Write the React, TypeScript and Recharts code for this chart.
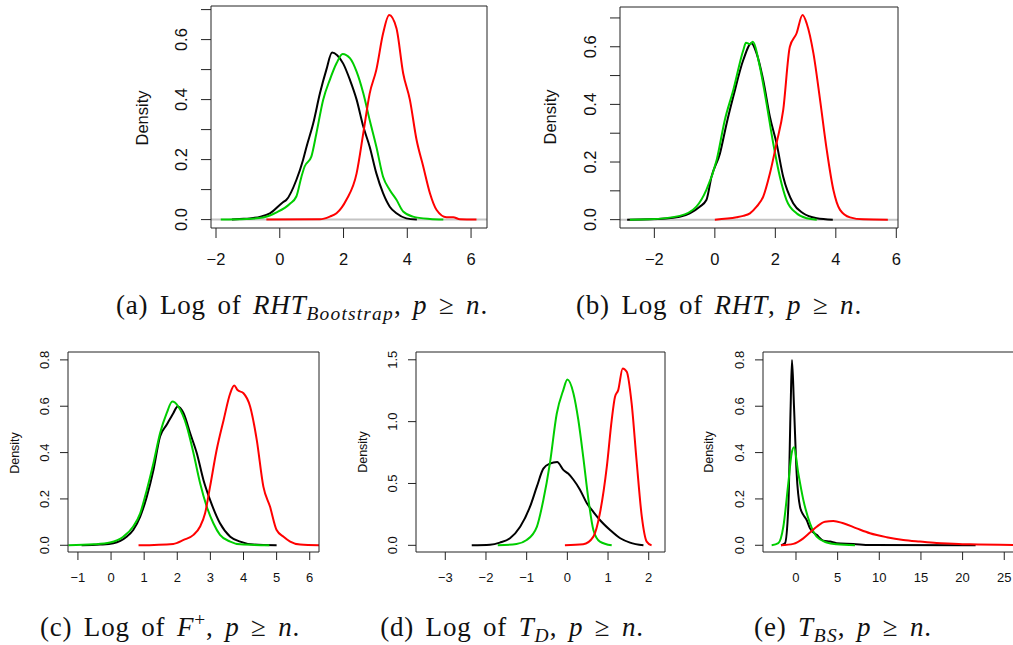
import { LineChart, Line, XAxis, YAxis, ReferenceLine } from 'recharts'

type Pt = [number, number]

// (a) log of RHT bootstrap
const aBlack: Pt[] = [[-1.5, 0], [-1.26, 0.002], [-0.94, 0.004], [-0.6, 0.01], [-0.31, 0.021], [0.1, 0.058], [0.21, 0.066], [0.52, 0.132], [0.73, 0.199], [0.84, 0.243], [1.05, 0.321], [1.26, 0.421], [1.46, 0.499], [1.64, 0.557], [1.8, 0.548], [1.99, 0.52], [2.2, 0.466], [2.41, 0.4], [2.62, 0.31], [2.82, 0.243], [3.03, 0.154], [3.24, 0.088], [3.45, 0.043], [3.66, 0.021], [3.97, 0.004], [4.3, 0]]
const aGreen: Pt[] = [[-1.85, 0], [-1.05, 0.002], [-0.52, 0.007], [-0.1, 0.024], [0.31, 0.052], [0.52, 0.077], [0.68, 0.143], [0.78, 0.177], [0.99, 0.21], [1.15, 0.288], [1.36, 0.399], [1.57, 0.466], [1.78, 0.521], [1.97, 0.552], [2.2, 0.538], [2.41, 0.493], [2.62, 0.421], [2.82, 0.332], [3.03, 0.243], [3.24, 0.143], [3.45, 0.099], [3.66, 0.066], [3.87, 0.027], [4.18, 0.01], [4.71, 0.002], [5.13, 0]]
const aRed: Pt[] = [[-0.42, 0], [1.26, 0.001], [1.57, 0.01], [1.78, 0.021], [2.09, 0.066], [2.41, 0.154], [2.62, 0.288], [2.82, 0.42], [3.03, 0.5], [3.24, 0.62], [3.43, 0.682], [3.66, 0.638], [3.87, 0.488], [4.08, 0.4], [4.29, 0.266], [4.5, 0.177], [4.71, 0.088], [4.92, 0.032], [5.23, 0.008], [5.44, 0.008], [5.65, 0.001], [6.17, 0]]

// (b) log of RHT
const bBlack: Pt[] = [[-2.9, 0], [-2.15, 0.001], [-1.16, 0.01], [-0.83, 0.022], [-0.5, 0.045], [-0.28, 0.068], [-0.11, 0.149], [0.17, 0.23], [0.39, 0.334], [0.61, 0.427], [0.94, 0.554], [1.21, 0.612], [1.38, 0.577], [1.6, 0.484], [1.82, 0.357], [2.04, 0.265], [2.26, 0.149], [2.59, 0.057], [2.92, 0.022], [3.37, 0.005], [3.9, 0]]
const bGreen: Pt[] = [[-2.81, 0], [-2.15, 0.001], [-1.16, 0.013], [-0.61, 0.045], [-0.28, 0.103], [0.06, 0.207], [0.33, 0.346], [0.61, 0.45], [0.94, 0.588], [1.03, 0.614], [1.16, 0.609], [1.25, 0.617], [1.49, 0.53], [1.71, 0.403], [1.93, 0.265], [2.15, 0.149], [2.37, 0.068], [2.7, 0.022], [3.04, 0.005], [3.37, 0]]
const bRed: Pt[] = [[0, 0], [0.72, 0.008], [0.94, 0.013], [1.16, 0.022], [1.38, 0.045], [1.6, 0.08], [1.82, 0.16], [2.04, 0.265], [2.26, 0.38], [2.48, 0.6], [2.7, 0.646], [2.9, 0.71], [3.04, 0.68], [3.26, 0.577], [3.48, 0.415], [3.7, 0.242], [3.92, 0.103], [4.14, 0.034], [4.47, 0.008], [4.91, 0.001], [5.72, 0]]

// (c) log of F+
const cBlack: Pt[] = [[-0.89, 0], [-0.33, 0.003], [0.07, 0.009], [0.47, 0.037], [0.67, 0.066], [0.88, 0.124], [1.08, 0.21], [1.28, 0.325], [1.48, 0.469], [1.68, 0.52], [1.88, 0.57], [2.01, 0.599], [2.19, 0.57], [2.39, 0.483], [2.59, 0.397], [2.79, 0.282], [2.99, 0.196], [3.29, 0.095], [3.6, 0.037], [3.9, 0.016], [4.3, 0.003], [5.0, 0]]
const cGreen: Pt[] = [[-1.29, 0], [-0.53, 0.004], [-0.03, 0.012], [0.37, 0.037], [0.67, 0.081], [0.88, 0.138], [1.08, 0.239], [1.28, 0.354], [1.48, 0.483], [1.68, 0.57], [1.85, 0.62], [2.03, 0.599], [2.29, 0.512], [2.49, 0.397], [2.69, 0.268], [2.89, 0.167], [3.09, 0.095], [3.29, 0.045], [3.6, 0.016], [3.9, 0.004], [4.78, 0]]
const cRed: Pt[] = [[0.83, 0], [1.88, 0.006], [2.19, 0.023], [2.49, 0.045], [2.69, 0.081], [2.84, 0.138], [2.99, 0.253], [3.19, 0.412], [3.4, 0.541], [3.6, 0.656], [3.72, 0.689], [3.82, 0.67], [4.0, 0.656], [4.2, 0.599], [4.4, 0.455], [4.6, 0.253], [4.8, 0.167], [5.0, 0.066], [5.21, 0.037], [5.41, 0.016], [5.71, 0.003], [6.28, 0]]

// (d) log of T_D
const dBlack: Pt[] = [[-2.35, 0], [-1.9, 0.005], [-1.66, 0.022], [-1.41, 0.057], [-1.16, 0.15], [-0.92, 0.31], [-0.75, 0.474], [-0.59, 0.62], [-0.43, 0.66], [-0.25, 0.673], [-0.1, 0.61], [0.02, 0.58], [0.15, 0.53], [0.31, 0.45], [0.48, 0.34], [0.64, 0.27], [0.8, 0.205], [1.05, 0.124], [1.3, 0.057], [1.54, 0.022], [1.87, 0]]
const dGreen: Pt[] = [[-1.71, 0], [-1.25, 0.011], [-1.0, 0.043], [-0.75, 0.15], [-0.59, 0.366], [-0.43, 0.66], [-0.26, 1.066], [-0.1, 1.255], [0, 1.34], [0.15, 1.228], [0.27, 1.013], [0.39, 0.716], [0.52, 0.366], [0.64, 0.124], [0.8, 0.03], [1.09, 0]]
const dRed: Pt[] = [[-0.06, 0], [0.39, 0.008], [0.64, 0.07], [0.8, 0.259], [0.97, 0.636], [1.09, 1.013], [1.17, 1.2], [1.25, 1.255], [1.36, 1.43], [1.46, 1.403], [1.58, 1.147], [1.7, 0.69], [1.83, 0.232], [1.95, 0.03], [2.07, 0]]

// (e) T_BS
const eBlack: Pt[] = [[-1.8, 0], [-1.32, 0.009], [-0.92, 0.167], [-0.64, 0.6], [-0.48, 0.8], [-0.24, 0.6], [0.08, 0.31], [0.48, 0.167], [0.88, 0.131], [1.28, 0.109], [1.68, 0.073], [2.48, 0.045], [3.28, 0.02], [4.08, 0.016], [4.88, 0.009], [6.88, 0.006], [8.88, 0.001], [21.56, 0]]
const eGreen: Pt[] = [[-2.92, 0], [-2.12, 0.009], [-1.52, 0.08], [-0.92, 0.268], [-0.52, 0.397], [-0.24, 0.423], [0.28, 0.31], [0.88, 0.196], [1.68, 0.095], [2.48, 0.037], [3.68, 0.012], [4.88, 0.004], [7.08, 0]]
const eRed: Pt[] = [[-1.8, 0], [-0.32, 0.006], [0.88, 0.03], [1.68, 0.055], [2.48, 0.08], [3.48, 0.102], [4.48, 0.105], [5.68, 0.095], [7.28, 0.073], [8.88, 0.052], [10.88, 0.035], [12.88, 0.023], [14.88, 0.016], [16.88, 0.01], [18.88, 0.007], [20.88, 0.004], [26.08, 0.0015]]

const xTicksAB = [-2, 0, 2, 4, 6]
const yTicksAB = [0, 0.1, 0.2, 0.3, 0.4, 0.5, 0.6, 0.7]
const yLabelsAB = [0, 0.2, 0.4, 0.6]
const xTicksC = [-1, 0, 1, 2, 3, 4, 5, 6]
const yTicksCE = [0, 0.2, 0.4, 0.6, 0.8]
const xTicksD = [-3, -2, -1, 0, 1, 2]
const yTicksD = [0, 0.5, 1, 1.5]
const xTicksE = [0, 5, 10, 15, 20, 25]

const BLACK = '#000000'
const GREEN = '#00CD00'
const RED = '#FF0000'

interface PanelSpec {
  box: [number, number, number, number]
  xDomain: [number, number]
  yDomain: [number, number]
  xTicks: number[]
  yTicks: number[]
  yLabels: number[]
  series: Pt[][]
  zeroLine: boolean
  big: boolean
}

const panels: PanelSpec[] = [
  { box: [211, 6, 487, 228], xDomain: [-2.157, 6.5], yDomain: [-0.028, 0.712], xTicks: xTicksAB, yTicks: yTicksAB, yLabels: yLabelsAB, series: [aBlack, aGreen, aRed], zeroLine: true, big: true },
  { box: [620, 7, 898, 228], xDomain: [-3.136, 6.056], yDomain: [-0.029, 0.738], xTicks: xTicksAB, yTicks: yTicksAB, yLabels: yLabelsAB, series: [bBlack, bGreen, bRed], zeroLine: true, big: true },
  { box: [68, 352, 319, 552], xDomain: [-1.3, 6.28], yDomain: [-0.029, 0.834], xTicks: xTicksC, yTicks: yTicksCE, yLabels: yTicksCE, series: [cBlack, cGreen, cRed], zeroLine: false, big: false },
  { box: [416, 352, 665, 552], xDomain: [-3.72, 2.4], yDomain: [-0.054, 1.563], xTicks: xTicksD, yTicks: yTicksD, yLabels: yTicksD, series: [dBlack, dGreen, dRed], zeroLine: false, big: false },
  { box: [763, 352, 1022, 552], xDomain: [-3.96, 27.13], yDomain: [-0.029, 0.834], xTicks: xTicksE, yTicks: yTicksCE, yLabels: yTicksCE, series: [eBlack, eGreen, eRed], zeroLine: false, big: false },
]

const COLORS = [BLACK, GREEN, RED]
const SANS = '"Liberation Sans", Arial, sans-serif'
const SERIF = '"Liberation Serif", "Times New Roman", serif'
const FRAME = '#222'

const fmt = (v: number, d: number) => (v < 0 ? '\u2212' : '') + Math.abs(v).toFixed(d)

function Panel({ p }: { p: PanelSpec }) {
  const yw = p.big ? 50 : 42
  const xh = p.big ? 45 : 40
  const font = p.big ? 16.5 : 13
  const tick = p.big ? 10 : 8
  const w = p.box[2] - p.box[0]
  const h = p.box[3] - p.box[1]
  // the top x axis and right y axis are 2px wide bands whose axis lines close the frame
  return (
    <div style={{ position: 'absolute', left: p.box[0] - yw, top: p.box[1] - 3 }}>
      <LineChart width={yw + w + 3} height={h + xh + 3} margin={{ top: 1, right: 1, bottom: 0, left: 0 }}>
        <XAxis
          type="number"
          dataKey="x"
          domain={p.xDomain}
          ticks={p.xTicks}
          interval={0}
          allowDataOverflow
          axisLine={{ stroke: FRAME }}
          tickLine={{ stroke: FRAME }}
          tickSize={tick}
          tickMargin={p.big ? 27 : 22}
          height={xh}
          tick={(t: any) => (
            <text x={t.x} y={t.y} textAnchor="middle" fontSize={font} fill="#111" fontFamily={SANS}>
              {fmt(t.payload.value, 0)}
            </text>
          )}
        />
        <XAxis
          xAxisId="top"
          orientation="top"
          type="number"
          dataKey="x"
          domain={p.xDomain}
          allowDataOverflow
          height={2}
          tick={false}
          tickLine={false}
          axisLine={{ stroke: FRAME }}
        />
        <YAxis
          type="number"
          domain={p.yDomain}
          ticks={p.yTicks}
          interval={0}
          allowDataOverflow
          axisLine={{ stroke: FRAME }}
          tickLine={{ stroke: FRAME }}
          tickSize={tick}
          tickMargin={p.big ? 14 : 11}
          width={yw}
          tick={(t: any) => {
            const v = t.payload.value
            const show = p.yLabels.some((l) => Math.abs(l - v) < 1e-9)
            if (!show) return <g />
            return (
              <text x={t.x} y={t.y} transform={`rotate(-90 ${t.x} ${t.y})`} textAnchor="middle" fontSize={font} fill="#111" fontFamily={SANS}>
                {fmt(v, 1)}
              </text>
            )
          }}
        />
        <YAxis
          yAxisId="right"
          orientation="right"
          type="number"
          domain={p.yDomain}
          allowDataOverflow
          width={2}
          tick={false}
          tickLine={false}
          axisLine={{ stroke: FRAME }}
        />
        {p.zeroLine && <ReferenceLine y={0} stroke="#c4c4c4" strokeWidth={2} />}
        {p.series.map((s, i) => (
          <Line
            key={i}
            data={s.map(([x, y]) => ({ x, y }))}
            dataKey="y"
            type="monotone"
            stroke={COLORS[i]}
            strokeWidth={2}
            dot={false}
            isAnimationActive={false}
          />
        ))}
      </LineChart>
    </div>
  )
}

const densityLabels: { x: number; y: number; big: boolean }[] = [
  { x: 142, y: 118, big: true },
  { x: 550, y: 117, big: true },
  { x: 15, y: 453, big: false },
  { x: 363, y: 452, big: false },
  { x: 709, y: 452, big: false },
]

function Caption({ cx, cy, children }: { cx: number; cy: number; children: React.ReactNode }) {
  return (
    <div
      style={{
        position: 'absolute',
        left: cx - 300,
        top: cy - 16,
        width: 600,
        lineHeight: '32px',
        textAlign: 'center',
        fontFamily: SERIF,
        fontSize: 27,
        letterSpacing: 0.8,
        wordSpacing: 4,
        color: '#111',
        whiteSpace: 'nowrap',
      }}
    >
      {children}
    </div>
  )
}

const subStyle: React.CSSProperties = { fontSize: '72%', verticalAlign: '-0.3em', lineHeight: 0, letterSpacing: 1.2 }
const supStyle: React.CSSProperties = { fontSize: '72%', verticalAlign: '0.5em', lineHeight: 0 }

export default function App() {
  return (
    <div style={{ position: 'fixed', left: 0, top: 0, width: 1013, height: 645, overflow: 'hidden', background: '#fff' }}>
      {panels.map((p, i) => (
        <Panel key={i} p={p} />
      ))}
      {densityLabels.map((d, i) => (
        <div
          key={i}
          style={{
            position: 'absolute',
            left: d.x,
            top: d.y,
            transform: 'translate(-50%, -50%) rotate(-90deg)',
            fontFamily: SANS,
            fontSize: d.big ? 16.5 : 12.5,
            color: '#111',
            whiteSpace: 'nowrap',
            lineHeight: 1,
          }}
        >
          Density
        </div>
      ))}
      <Caption cx={302} cy={305}>
        (a) Log of <i>RHT</i><i style={subStyle}>Bootstrap</i>, <i>p</i> ≥ <i>n</i>.
      </Caption>
      <Caption cx={719} cy={305}>
        (b) Log of <i>RHT</i>, <i>p</i> ≥ <i>n</i>.
      </Caption>
      <Caption cx={170} cy={627}>
        (c) Log of <i>F</i><span style={supStyle}>+</span>, <i>p</i> ≥ <i>n</i>.
      </Caption>
      <Caption cx={512} cy={627}>
        (d) Log of <i>T</i><i style={subStyle}>D</i>, <i>p</i> ≥ <i>n</i>.
      </Caption>
      <Caption cx={843} cy={627}>
        (e) <i>T</i><i style={subStyle}>BS</i>, <i>p</i> ≥ <i>n</i>.
      </Caption>
    </div>
  )
}
